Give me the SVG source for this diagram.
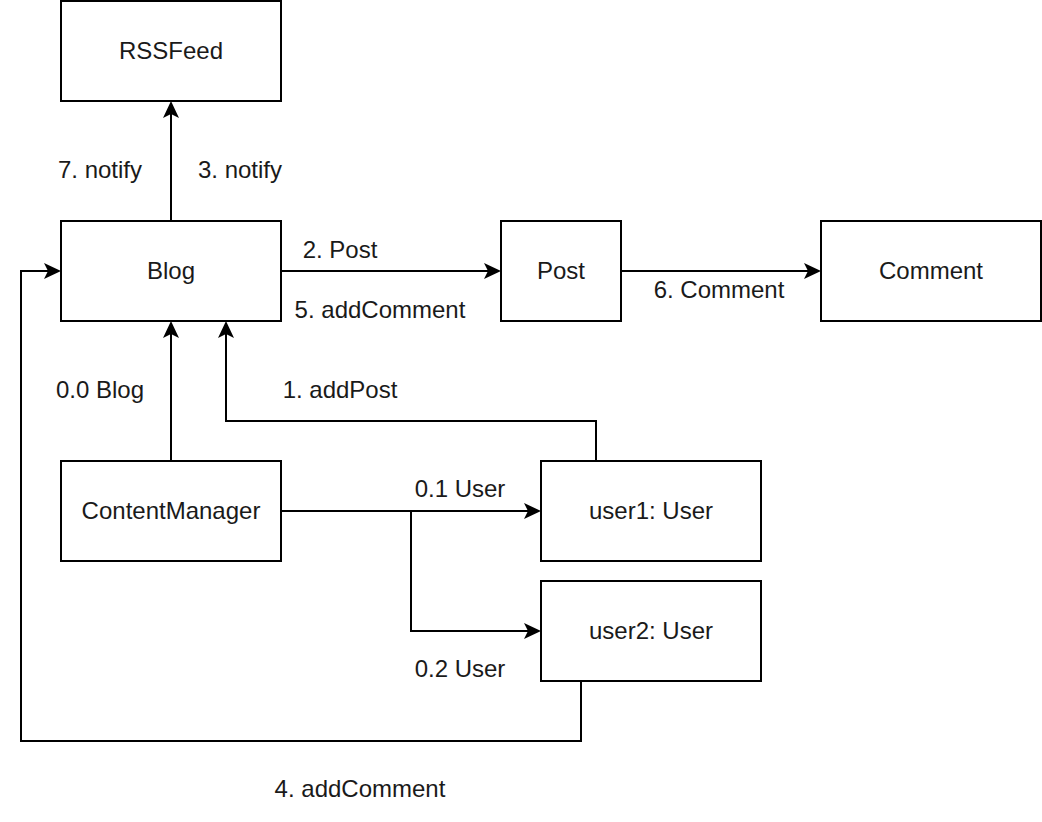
<svg xmlns="http://www.w3.org/2000/svg" width="1042" height="822" viewBox="0 0 1042 822">
<style>
.box{fill:#fff;stroke:#000;stroke-width:2}
.lbl{font-family:"Liberation Sans",Arial,sans-serif;font-size:24px;fill:#1a1a1a;text-anchor:middle}
.edge{fill:none;stroke:#000;stroke-width:2;marker-end:url(#arr)}
</style>
<defs>
<marker id="arr" viewBox="0 0 17 16" refX="4" refY="8" markerWidth="17" markerHeight="16" markerUnits="userSpaceOnUse" orient="auto">
<path d="M0,0 L17,8 L0,16 L4,8 Z" fill="#000"/>
</marker>
</defs>
<rect width="1042" height="822" fill="#fff"/>
<g id="connectors">
<path class="edge" d="M171,221 V114"/>
<path class="edge" d="M281,271 H488"/>
<path class="edge" d="M621,271 H808"/>
<path class="edge" d="M171,461 V334"/>
<path class="edge" d="M596,461 V421 H226 V334"/>
<path class="edge" d="M281,511 H528"/>
<path class="edge" d="M411,511 V631 H528"/>
<path class="edge" d="M581,681 V741 H21 V271 H48"/>
<text class="lbl" x="100" y="178">7. notify</text>
<text class="lbl" x="240" y="178">3. notify</text>
<text class="lbl" x="340" y="258">2. Post</text>
<text class="lbl" x="380" y="318">5. addComment</text>
<text class="lbl" x="719" y="298">6. Comment</text>
<text class="lbl" x="100" y="398">0.0 Blog</text>
<text class="lbl" x="340" y="398">1. addPost</text>
<text class="lbl" x="460" y="497">0.1 User</text>
<text class="lbl" x="460" y="677">0.2 User</text>
<text class="lbl" x="360" y="797">4. addComment</text>
</g>
<g id="RSSFeed"><rect class="box" x="61" y="1" width="220" height="100"/><text class="lbl" x="171" y="59">RSSFeed</text></g>
<g id="Blog"><rect class="box" x="61" y="221" width="220" height="100"/><text class="lbl" x="171" y="279">Blog</text></g>
<g id="Post"><rect class="box" x="501" y="221" width="120" height="100"/><text class="lbl" x="561" y="279">Post</text></g>
<g id="Comment"><rect class="box" x="821" y="221" width="220" height="100"/><text class="lbl" x="931" y="279">Comment</text></g>
<g id="ContentManager"><rect class="box" x="61" y="461" width="220" height="100"/><text class="lbl" x="171" y="519">ContentManager</text></g>
<g id="user1"><rect class="box" x="541" y="461" width="220" height="100"/><text class="lbl" x="651" y="519">user1: User</text></g>
<g id="user2"><rect class="box" x="541" y="581" width="220" height="100"/><text class="lbl" x="651" y="639">user2: User</text></g>
</svg>
